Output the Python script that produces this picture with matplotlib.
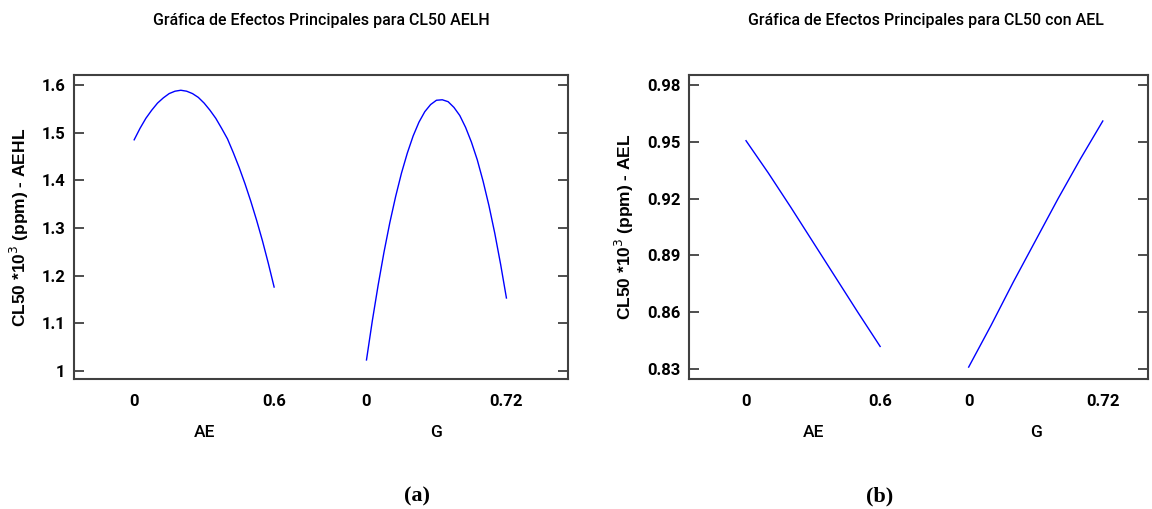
import matplotlib
matplotlib.use("Agg")
import matplotlib.pyplot as plt
from matplotlib import font_manager as fm
import numpy as np

# ---------------- data ----------------
titles = ["Gráfica de Efectos Principales para CL50 AELH",
          "Gráfica de Efectos Principales para CL50 con AEL"]
ylabels = ["CL50 *10$^{3}$ (ppm) - AEHL", "CL50 *10$^{3}$ (ppm) - AEL"]
factors = ["AE", "G"]
factor_lows = [0, 0]
factor_highs = [0.6, 0.72]
high_labels = ["0.6", "0.72"]
panel_tags = ["(a)", "(b)"]

# panel (a)
ae_a = [0, 0.025, 0.05, 0.075, 0.1, 0.125, 0.15, 0.175, 0.2, 0.225, 0.25, 0.275,
        0.3, 0.325, 0.35, 0.375, 0.4, 0.425, 0.45, 0.475, 0.5, 0.525, 0.55, 0.575, 0.6]
cl_ae_a = [1.485, 1.509, 1.530, 1.547, 1.562, 1.573, 1.582, 1.587, 1.589, 1.587,
           1.582, 1.574, 1.562, 1.547, 1.530, 1.509, 1.487, 1.458, 1.427, 1.393,
           1.356, 1.316, 1.273, 1.226, 1.176]
g_a = [0, 0.03, 0.06, 0.09, 0.12, 0.15, 0.18, 0.21, 0.24, 0.27, 0.30, 0.33, 0.36,
       0.39, 0.42, 0.45, 0.48, 0.51, 0.54, 0.57, 0.60, 0.63, 0.66, 0.69, 0.72]
cl_g_a = [1.023, 1.105, 1.180, 1.249, 1.311, 1.366, 1.415, 1.457, 1.493, 1.522,
          1.544, 1.559, 1.568, 1.569, 1.565, 1.553, 1.536, 1.511, 1.480, 1.443,
          1.398, 1.347, 1.289, 1.224, 1.153]
yticks_a = [1.0, 1.1, 1.2, 1.3, 1.4, 1.5, 1.6]
yticklabels_a = ["1", "1.1", "1.2", "1.3", "1.4", "1.5", "1.6"]

# panel (b)
ae_b = [0, 0.1, 0.2, 0.3, 0.4, 0.5, 0.6]
cl_ae_b = [0.9506, 0.9335, 0.9155, 0.8970, 0.8785, 0.8600, 0.8419]
g_b = [0, 0.12, 0.24, 0.36, 0.48, 0.60, 0.72]
cl_g_b = [0.831, 0.853, 0.876, 0.898, 0.920, 0.941, 0.961]
yticks_b = [0.83, 0.86, 0.89, 0.92, 0.95, 0.98]
yticklabels_b = ["0.83", "0.86", "0.89", "0.92", "0.95", "0.98"]

# ---------------- fonts ----------------
avail = {f.name for f in fm.fontManager.ttflist}
narrow = "Liberation Sans Narrow" if "Liberation Sans Narrow" in avail else "Roboto"
serif = ["Liberation Serif", "DejaVu Serif"]

W, H = 1152, 509
fig = plt.figure(figsize=(W / 100, H / 100), dpi=100)

def ax_rect(x0, x1, y0, y1):
    return [x0 / W, 1 - y1 / H, (x1 - x0) / W, (y1 - y0) / H]

GAP = 0.66
panels = [
    dict(rect=ax_rect(74, 568, 75, 379), xlim=(-0.43, 3.10), ylim=(0.983, 1.621),
         curves=[(ae_a, cl_ae_a), (g_a, cl_g_a)], yt=yticks_a, ytl=yticklabels_a,
         tag_x=417, title_x=321),
    dict(rect=ax_rect(689, 1148, 75, 379), xlim=(-0.425, 2.997), ylim=(0.8247, 0.9853),
         curves=[(ae_b, cl_ae_b), (g_b, cl_g_b)], yt=yticks_b, ytl=yticklabels_b,
         tag_x=880, title_x=926),
]

for i, p in enumerate(panels):
    ax = fig.add_axes(p["rect"])
    for k, (xs, ys) in enumerate(p["curves"]):
        lo, hi = factor_lows[k], factor_highs[k]
        pos = k * (1 + GAP) + (np.asarray(xs) - lo) / (hi - lo)
        ax.plot(pos, ys, color="#0000ff", lw=1.0)
    ax.set_xlim(*p["xlim"])
    ax.set_ylim(*p["ylim"])
    ax.set_yticks(p["yt"])
    ax.set_yticklabels(p["ytl"], fontfamily=narrow, fontweight="bold", fontsize=12)
    ax.tick_params(axis="y", direction="in", length=7, width=1.3, color="#404040",
                   left=True, right=True, pad=6)
    ax.set_xticks([])
    for s in ax.spines.values():
        s.set_color("#404040")
        s.set_linewidth(1.5)
    for k in range(2):
        x0 = k * (1 + GAP)
        ax.text(x0, -0.075, "0", transform=ax.get_xaxis_transform(), ha="center",
                va="center", fontfamily=narrow, fontweight="bold", fontsize=12)
        ax.text(x0 + 1, -0.075, high_labels[k], transform=ax.get_xaxis_transform(),
                ha="center", va="center", fontfamily=narrow, fontweight="bold", fontsize=12)
        ax.text(x0 + 0.5, -0.175, factors[k], transform=ax.get_xaxis_transform(),
                ha="center", va="center", fontfamily=narrow, fontweight="medium",
                fontsize=12.5)
    ax.set_ylabel(ylabels[i], fontfamily="Liberation Sans", fontweight="bold",
                  fontsize=12.5, labelpad=8)
    fig.text(p["title_x"] / W, 1 - 20 / H, titles[i], ha="center", va="center",
             fontfamily=narrow, fontweight="medium", fontsize=11.5)
    fig.text(p["tag_x"] / W, 1 - 496 / H, panel_tags[i], ha="center", va="center",
             fontfamily=serif, fontweight="bold", fontsize=16)

fig.savefig("out.png", dpi=100)
